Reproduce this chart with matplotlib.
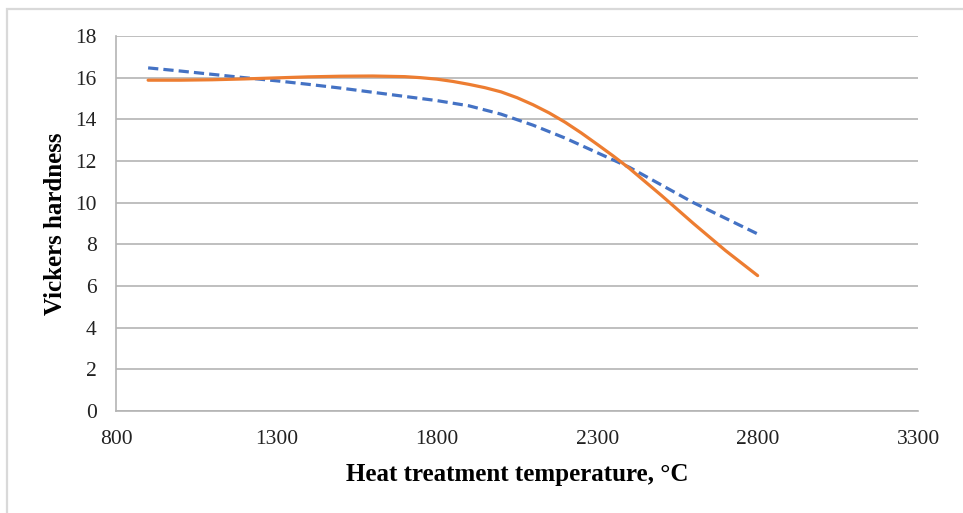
import matplotlib
matplotlib.use("Agg")
import matplotlib.pyplot as plt
from matplotlib.patches import Rectangle

# Data (temperature in deg C)
temp_measured = [900, 1000, 1100, 1200, 1300, 1400, 1500, 1600, 1700, 1750,
                 1800, 1850, 1900, 1950, 2000, 2050, 2100, 2150, 2200, 2250,
                 2300, 2350, 2400, 2500, 2600, 2700, 2800]
hardness_measured = [15.88, 15.88, 15.90, 15.94, 15.99, 16.04, 16.07, 16.08,
                     16.05, 16.00, 15.93, 15.82, 15.68, 15.52, 15.32, 15.04,
                     14.70, 14.31, 13.86, 13.35, 12.80, 12.24, 11.65, 10.35,
                     9.00, 7.70, 6.50]
temp_fit = [900, 1000, 1100, 1200, 1300, 1400, 1500, 1600, 1700, 1800,
            1900, 2000, 2100, 2200, 2300, 2400, 2500, 2600, 2700, 2800]
hardness_fit = [16.47, 16.32, 16.16, 16.00, 15.85, 15.68, 15.50, 15.30,
                15.10, 14.90, 14.65, 14.25, 13.72, 13.10, 12.40, 11.70,
                10.85, 10.00, 9.25, 8.50]

x_ticks = [800, 1300, 1800, 2300, 2800, 3300]
y_ticks = [0, 2, 4, 6, 8, 10, 12, 14, 16, 18]

ORANGE = "#ED7D31"
BLUE = "#4472C4"
GRID = "#b4b4b4"

plt.rcParams["font.family"] = ["Liberation Serif", "DejaVu Serif"]

fig = plt.figure(figsize=(9.63, 5.13), dpi=100)
ax = fig.add_axes([0.1205, 0.1988, 0.8328, 0.7310])

# light frame of the chart area (only left/top visible in the crop)
fig.patches.append(Rectangle((0.0075, -0.05), 1.2, 1.032, transform=fig.transFigure,
                             fill=False, edgecolor="#d9d9d9", linewidth=1.6))

ax.plot(temp_fit, hardness_fit, color=BLUE, linewidth=2.3,
        linestyle=(0, (3.2, 1.6)), dash_capstyle="butt", zorder=3)
ax.plot(temp_measured, hardness_measured, color=ORANGE, linewidth=2.3,
        solid_capstyle="round", solid_joinstyle="round", zorder=4)

ax.set_xlim(800, 3300)
ax.set_ylim(0, 18)
ax.set_xticks(x_ticks)
ax.set_yticks(y_ticks)
ax.tick_params(length=0, labelsize=15.5, colors="#222")
ax.tick_params(axis="y", pad=14)
ax.tick_params(axis="x", pad=14)

ax.grid(axis="y", color=GRID, linewidth=1.2)
ax.set_axisbelow(True)
for side in ("top", "right"):
    ax.spines[side].set_visible(False)
for side in ("left", "bottom"):
    ax.spines[side].set_color(GRID)
    ax.spines[side].set_linewidth(1.2)

ax.set_xlabel("Heat treatment temperature, °C", fontsize=18, fontweight="bold",
              labelpad=10)
ax.set_ylabel("Vickers hardness", fontsize=18, fontweight="bold", labelpad=6)

fig.savefig("out.png", dpi=100, facecolor="white")
